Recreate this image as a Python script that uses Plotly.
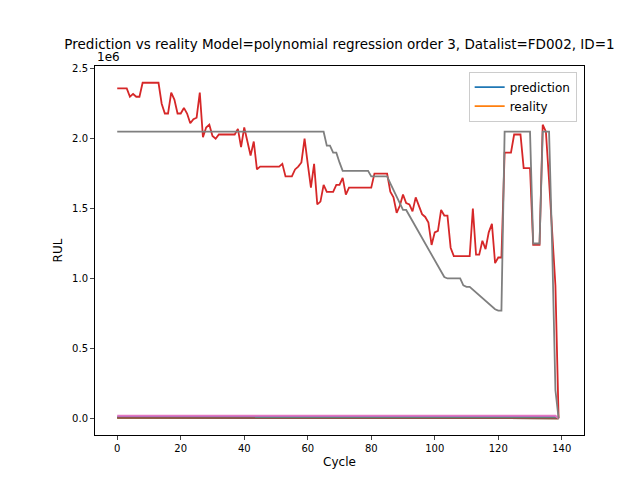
import numpy as np
import plotly.graph_objects as go

cycle = list(range(140))

# model prediction (drawn in red), in 1e6 units
pred_red = [2.36, 2.36, 2.36, 2.36, 2.30, 2.32, 2.30, 2.30, 2.40, 2.40,
            2.40, 2.40, 2.40, 2.40, 2.25, 2.18, 2.18, 2.33, 2.28, 2.18,
            2.18, 2.22, 2.18, 2.11, 2.14, 2.15, 2.33, 2.01, 2.08, 2.10,
            2.02, 2.00, 2.03, 2.03, 2.03, 2.03, 2.03, 2.03, 2.07, 1.94,
            2.08, 1.99, 1.88, 1.98, 1.78, 1.80, 1.80, 1.80, 1.80, 1.80,
            1.80, 1.80, 1.82, 1.73, 1.73, 1.73, 1.78, 1.80, 1.83, 2.00,
            1.82, 1.65, 1.82, 1.53, 1.55, 1.67, 1.62, 1.62, 1.62, 1.67,
            1.67, 1.72, 1.60, 1.65, 1.65, 1.65, 1.65, 1.65, 1.65, 1.65,
            1.65, 1.75, 1.75, 1.75, 1.75, 1.75, 1.62, 1.58, 1.47, 1.52,
            1.60, 1.54, 1.53, 1.48, 1.58, 1.52, 1.46, 1.44, 1.40, 1.24,
            1.33, 1.34, 1.49, 1.45, 1.45, 1.22, 1.16, 1.16, 1.16, 1.16,
            1.16, 1.16, 1.50, 1.17, 1.17, 1.27, 1.21, 1.33, 1.39, 1.11,
            1.15, 1.15, 1.90, 1.90, 1.90, 2.03, 2.03, 2.03, 1.79, 1.79,
            1.79, 1.24, 1.24, 1.24, 2.10, 2.05, 1.70, 1.30, 0.95, 0.00]

# reality (drawn in grey), in 1e6 units
real_grey = [2.05] * 66 + [1.95, 1.95, 1.90, 1.90, 1.83, 1.77, 1.77, 1.77, 1.77,
             1.77, 1.77, 1.77, 1.77, 1.77, 1.73, 1.73, 1.73, 1.73, 1.73,
             1.73, 1.68, 1.63, 1.58, 1.53, 1.49, 1.49, 1.45, 1.41, 1.37,
             1.33, 1.29, 1.25, 1.21, 1.17, 1.13, 1.09, 1.05, 1.01, 1.00,
             1.00, 1.00, 1.00, 1.00, 0.95, 0.94, 0.94, 0.92, 0.90, 0.88,
             0.86, 0.84, 0.82, 0.80, 0.78, 0.77, 0.77, 2.05, 2.05, 2.05,
             2.05, 2.05, 2.05, 2.05, 2.05, 2.05, 1.25, 1.25, 1.25, 2.05,
             2.05, 2.05, 1.20, 0.20, 0.00]
real_grey = real_grey[:140]

# small series hugging zero, in 1e6 units
small_levels = {"prediction": 0.004, "reality": 0.003, "s2": 0.006,
                "s4": 0.012, "s5": 0.002, "s6": 0.018}

colors = ["#1f77b4", "#ff7f0e", "#2ca02c", "#d62728",
          "#9467bd", "#8c564b", "#e377c2", "#7f7f7f"]

fig = go.Figure()
names = ["prediction", "reality", "s2", None, "s4", "s5", "s6", None]
for i, nm in enumerate(names):
    if i == 3:
        y = np.array(pred_red) * 1e6
    elif i == 7:
        y = np.array(real_grey) * 1e6
    else:
        lvl = small_levels[nm]
        y = np.array([lvl] * 139 + [0.0]) * 1e6
    fig.add_trace(go.Scatter(x=cycle, y=y, mode="lines",
                             line=dict(color=colors[i], width=1.8),
                             name=nm or "", showlegend=i < 2))

fig.update_layout(
    width=640, height=480,
    paper_bgcolor="white", plot_bgcolor="white",
    margin=dict(l=87, r=64, t=58, b=53, autoexpand=False),
    font=dict(family="DejaVu Sans", size=10, color="black"),
    title=dict(text="Prediction vs reality Model=polynomial regression order 3, Datalist=FD002, ID=1",
               x=0.5, xref="paper", xanchor="center", y=0.925, yanchor="middle",
               font=dict(size=13.5)),
    xaxis=dict(title=dict(text="Cycle", standoff=4), range=[-7, 147],
               tickvals=[0, 20, 40, 60, 80, 100, 120, 140],
               showgrid=False, zeroline=False, showline=True, mirror=True,
               linecolor="black", ticks="outside", ticklen=4),
    yaxis=dict(title=dict(text="RUL", standoff=6), range=[-0.12e6, 2.52e6],
               tickvals=[0, 0.5e6, 1e6, 1.5e6, 2e6, 2.5e6],
               ticktext=["0.0", "0.5", "1.0", "1.5", "2.0", "2.5"],
               showgrid=False, zeroline=False, showline=True, mirror=True,
               linecolor="black", ticks="outside", ticklen=4),
    legend=dict(x=0.985, y=0.985, xanchor="right", yanchor="top",
                bordercolor="#cccccc", borderwidth=1, bgcolor="white",
                font=dict(size=12)),
    annotations=[dict(text="1e6", xref="paper", yref="paper", x=0, y=1,
                      xanchor="left", yanchor="bottom", showarrow=False,
                      font=dict(size=12))],
)

fig.write_html("out.html")
